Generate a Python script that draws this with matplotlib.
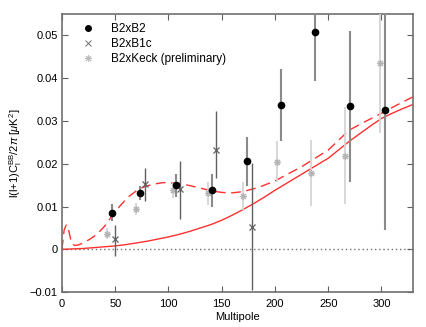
import numpy as np
import matplotlib
matplotlib.use("Agg")
import matplotlib.pyplot as plt

plt.rcParams['font.family'] = ['Liberation Sans', 'DejaVu Sans']
plt.rcParams['mathtext.fontset'] = 'custom'
plt.rcParams['mathtext.rm'] = 'Liberation Sans'
plt.rcParams['mathtext.it'] = 'Liberation Sans:italic'
plt.rcParams['mathtext.sf'] = 'Liberation Sans'

# B2xB2
b2_l = [46.9, 73.7, 107.5, 141.0, 174.0, 205.4, 237.6, 270.5, 303.3]
b2_v = [0.0086, 0.0132, 0.0150, 0.0138, 0.0206, 0.0337, 0.0507, 0.0335, 0.0325]
b2_lo = [0.0019, 0.0016, 0.0027, 0.0039, 0.0057, 0.0084, 0.0113, 0.0177, 0.0280]
b2_hi = [0.0019, 0.0017, 0.0025, 0.0038, 0.0057, 0.0084, 0.0113, 0.0175, 0.0280]

# B2xB1c
b1_l = [50.0, 77.5, 111.0, 144.5, 178.0]
b1_v = [0.0023, 0.0153, 0.0140, 0.0232, 0.0053]
b1_lo = [0.0038, 0.0039, 0.0069, 0.0065, 0.0148]
b1_hi = [0.0035, 0.0037, 0.0067, 0.0091, 0.0148]

# B2xKeck (preliminary)
bk_l = [42.2, 69.7, 103.8, 137.0, 169.8, 201.7, 233.6, 266.0, 298.9]
bk_v = [0.0037, 0.0094, 0.0139, 0.0131, 0.0125, 0.0204, 0.0179, 0.0218, 0.0436]
bk_lo = [0.0012, 0.0014, 0.0018, 0.0027, 0.0033, 0.0046, 0.0077, 0.0111, 0.0164]
bk_hi = [0.0012, 0.0015, 0.0016, 0.0027, 0.0033, 0.0050, 0.0076, 0.0114, 0.0164]

# lensing-only theory (solid)
lens_l = [0, 10, 20, 30, 40, 50, 60, 70, 80, 90, 100, 110, 120, 130, 140, 150,
          160, 170, 180, 190, 200, 210, 220, 230, 240, 250, 260, 270, 280, 290,
          300, 310, 320, 330]
lens_v = [0.0, 0.0001, 0.0002, 0.0004, 0.0006, 0.0008, 0.0011, 0.0015, 0.0019,
          0.0024, 0.0029, 0.0035, 0.0042, 0.0050, 0.0058, 0.0068, 0.0080, 0.0093,
          0.0107, 0.0122, 0.0138, 0.0153, 0.0168, 0.0183, 0.0198, 0.0213, 0.0233,
          0.0253, 0.0271, 0.0289, 0.0306, 0.0318, 0.0329, 0.0339]

# lensing + tensor theory (dashed)
tens_l = [0, 2, 4, 6, 8, 10, 12, 15, 20, 25, 30, 35, 40, 47, 55, 62, 70, 75, 85, 95,
          110, 120, 130, 140, 150, 160, 170, 185, 200, 212, 225, 237, 250, 260,
          270, 285, 300, 315, 330]
tens_v = [0.0, 0.0045, 0.0057, 0.0048, 0.0025, 0.0012, 0.0009, 0.0010, 0.0015,
          0.0022, 0.0030, 0.0041, 0.0054, 0.0078, 0.0103, 0.0122, 0.0137, 0.0144,
          0.0152, 0.0156, 0.0154, 0.0149, 0.0143, 0.0137, 0.0133, 0.0132, 0.0135,
          0.0145, 0.0160, 0.0176, 0.0193, 0.0212, 0.0232, 0.0256, 0.0279, 0.0299,
          0.0318, 0.0338, 0.0357]

fig = plt.figure(figsize=(4.26, 3.27), dpi=100)
ax = fig.add_axes([0.1455, 0.1067, 0.825, 0.8503])

ax.axhline(0, color='#707070', linestyle=(0, (1, 2)), linewidth=1.0, zorder=1)
ax.plot(lens_l, lens_v, color='#ff3030', linewidth=1.0, zorder=2)
ax.plot(tens_l, tens_v, color='#ff3030', linewidth=1.0, linestyle=(0, (7, 4)), zorder=2)

star = (8, 2, 0)
ax.errorbar(bk_l, bk_v, yerr=[bk_lo, bk_hi], fmt='none', ecolor='#d4d4d4',
            elinewidth=1.3, capsize=0, zorder=3)
ax.plot(bk_l, bk_v, linestyle='none', marker=star, markersize=5, color='#b4b4b4',
        markeredgewidth=0.8, zorder=4)

ax.errorbar(b2_l, b2_v, yerr=[b2_lo, b2_hi], fmt='none', ecolor='#8a8a8a',
            elinewidth=1.5, capsize=0, zorder=5)
ax.plot(b2_l, b2_v, linestyle='none', marker='o', markersize=4.5, color='black', zorder=7)

ax.errorbar(b1_l, b1_v, yerr=[b1_lo, b1_hi], fmt='none', ecolor='#606060',
            elinewidth=1.0, capsize=0, zorder=5)
ax.plot(b1_l, b1_v, linestyle='none', marker='x', markersize=4.2, color='#606060',
        markeredgewidth=0.9, zorder=6)

# legend proxies
h1, = ax.plot([], [], linestyle='none', marker='o', markersize=4, color='black')
h2, = ax.plot([], [], linestyle='none', marker='x', markersize=4, color='#707070',
              markeredgewidth=0.7)
h3, = ax.plot([], [], linestyle='none', marker=star, markersize=5, color='#bbbbbb',
              markeredgewidth=0.7)
ax.legend([h1, h2, h3], ['B2xB2', 'B2xB1c', 'B2xKeck (preliminary)'], loc='upper left',
          frameon=False, fontsize=8.5, handlelength=1.0, handletextpad=1.45,
          borderaxespad=0.5, labelspacing=0.25, bbox_to_anchor=(0.028, 1.006))

ax.set_xlim(0, 330)
ax.set_ylim(-0.01, 0.055)
ax.set_xticks([0, 50, 100, 150, 200, 250, 300])
ax.set_yticks([-0.01, 0, 0.01, 0.02, 0.03, 0.04, 0.05])
ax.set_yticklabels(['\u22120.01', '0', '0.01', '0.02', '0.03', '0.04', '0.05'])
ax.tick_params(direction='in', top=True, right=True, length=4, width=0.8,
               labelsize=8, color='#606060')
ax.tick_params(axis='x', pad=5)
ax.tick_params(axis='y', pad=3)
for s in ax.spines.values():
    s.set_color('#707070')
    s.set_linewidth(1.2)

ax.set_xlabel('Multipole', fontsize=8, labelpad=2)
ax.set_ylabel(r'l(l+1)C$_\mathrm{l}^\mathrm{BB}$/2$\pi$ [$\mu$K$^2$]', fontsize=8, labelpad=4)

fig.savefig('out.png', dpi=100)
